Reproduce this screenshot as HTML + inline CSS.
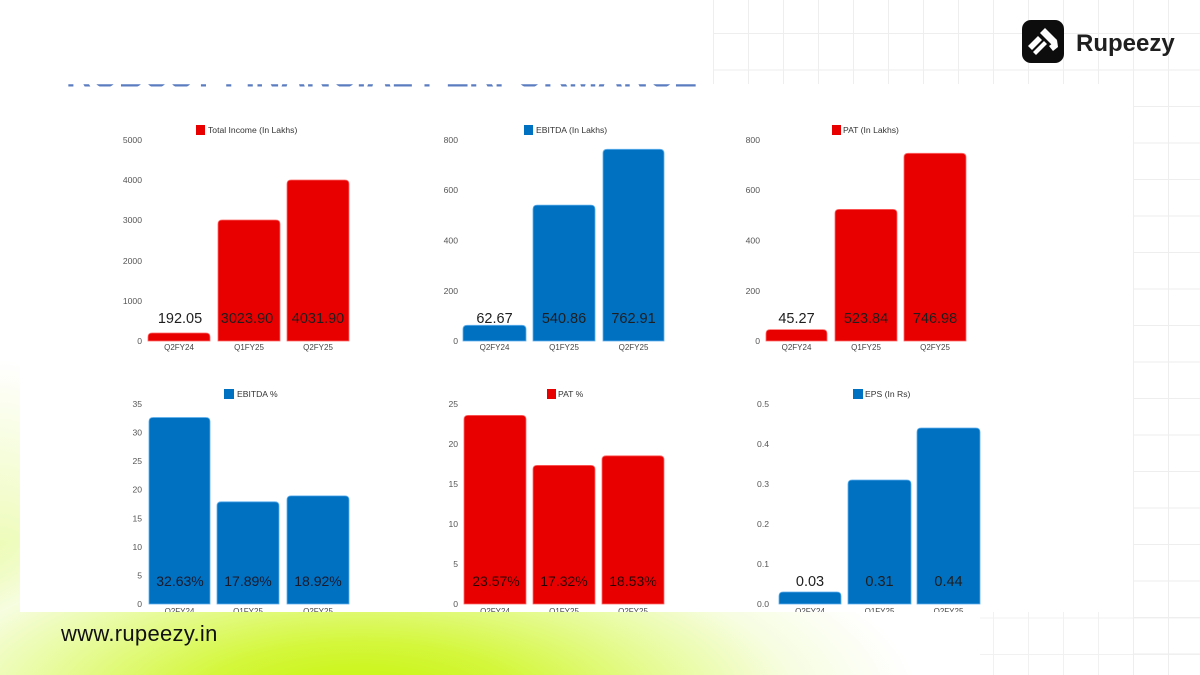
<!DOCTYPE html>
<html>
<head>
<meta charset="utf-8">
<style>
  html,body{margin:0;padding:0;}
  body{width:1200px;height:675px;position:relative;overflow:hidden;background:#ffffff;font-family:"Liberation Sans",sans-serif;}
  .lime{position:absolute;left:0;top:0;width:1200px;height:675px;
    background:
      radial-gradient(ellipse 560px 210px at 360px 705px, #c4f400 0%, #d4f73c 30%, #e6fb95 55%, #f6fde0 78%, rgba(255,255,255,0) 100%),
      radial-gradient(ellipse 140px 300px at 0px 660px, #e2fa8a 0%, #f1fcc8 50%, rgba(255,255,255,0) 100%);}
  .grid{position:absolute;
    background-image:
      linear-gradient(to right, #eeeeee 0px, #eeeeee 1px, transparent 1px),
      linear-gradient(to bottom, #eeeeee 0px, #eeeeee 1px, transparent 1px);
    background-size:35px 36.5px, 35px 36.5px;}
  .footer{position:absolute;left:61px;top:621px;font-size:22px;color:#111;letter-spacing:0.3px;}
</style>
</head>
<body>
<div class="lime"></div>
<div class="grid" style="left:713px;top:0;width:487px;height:84px;background-position:0px 33px,0px 33px;"></div>
<div class="grid" style="left:1133px;top:0;width:67px;height:675px;background-position:0px 33px,0px 33px;"></div>
<div class="grid" style="left:980px;top:612px;width:220px;height:63px;opacity:0.8;background-position:13px 5.5px,13px 5.5px;"></div>

<svg width="1200" height="675" viewBox="0 0 1200 675" style="position:absolute;left:0;top:0;" xmlns="http://www.w3.org/2000/svg" font-family="Liberation Sans, sans-serif">
  <defs>
    <clipPath id="titleclip"><rect x="0" y="84.3" width="720" height="2.2"/></clipPath>
    <clipPath id="panelclip"><rect x="20" y="87" width="1113" height="525"/></clipPath>
  </defs>

  <!-- hidden title (only bottoms visible) -->
  <g clip-path="url(#titleclip)">
    <text x="66" y="87" font-size="38" font-weight="bold" fill="#5b7dc0" textLength="631" lengthAdjust="spacingAndGlyphs">ROBUST FINANCIAL PERFORMANCE</text>
  </g>

  <!-- white panel -->
  <rect x="20" y="87" width="1113" height="525" fill="#ffffff"/>

  <!-- Logo -->
  <rect x="1022" y="20" width="42" height="43" rx="9" ry="9" fill="#0d0d0d"/>
  <g fill="#ffffff">
    <polygon points="1028,46 1038,36 1042,40 1032,50"/>
    <polygon points="1033,52 1044,41 1047,44 1036,55"/>
    <polygon points="1040,33 1045,28 1057,40 1052,45"/>
    <polygon points="1049,46 1057,40 1058,47 1053,51"/>
  </g>
  <text x="1076" y="51" font-size="24" font-weight="bold" fill="#1f1f1f">Rupeezy</text>

  <g clip-path="url(#panelclip)">
  <!-- ===== Chart 1: Total Income ===== -->
  <rect x="196" y="125" width="9" height="10" fill="#e80000"/>
  <text x="208" y="133.2" font-size="8.6" fill="#333">Total Income (In Lakhs)</text>
  <g font-size="8.6" fill="#555" text-anchor="end">
    <text x="142" y="143">5000</text>
    <text x="142" y="183">4000</text>
    <text x="142" y="223">3000</text>
    <text x="142" y="264">2000</text>
    <text x="142" y="304">1000</text>
    <text x="142" y="344">0</text>
  </g>
  <g fill="#e80000" stroke="#ff6a6a" stroke-width="0.8">
    <path d="M148,341V337Q148,333 152,333H206Q210,333 210,337V341Z"/>
    <path d="M218,341V224Q218,220 222,220H276Q280,220 280,224V341Z"/>
    <path d="M287,341V184Q287,180 291,180H345Q349,180 349,184V341Z"/>
  </g>
  <g font-size="14.5" fill="#1e1e1e" text-anchor="middle">
    <text x="180" y="323">192.05</text>
    <text x="247" y="323">3023.90</text>
    <text x="318" y="323">4031.90</text>
  </g>
  <g font-size="8" fill="#444" text-anchor="middle">
    <text x="179" y="350">Q2FY24</text>
    <text x="249" y="350">Q1FY25</text>
    <text x="318" y="350">Q2FY25</text>
  </g>

  <!-- ===== Chart 2: EBITDA ===== -->
  <rect x="524" y="125" width="9" height="10" fill="#0070c0"/>
  <text x="536" y="133.2" font-size="8.6" fill="#333">EBITDA (In Lakhs)</text>
  <g font-size="8.6" fill="#555" text-anchor="end">
    <text x="458" y="143">800</text>
    <text x="458" y="193">600</text>
    <text x="458" y="243.5">400</text>
    <text x="458" y="294">200</text>
    <text x="458" y="344">0</text>
  </g>
  <g fill="#0070c0" stroke="#5fb0ee" stroke-width="0.8">
    <path d="M463,341V329.3Q463,325.3 467,325.3H522Q526,325.3 526,329.3V341Z"/>
    <path d="M533,341V209.1Q533,205.1 537,205.1H591Q595,205.1 595,209.1V341Z"/>
    <path d="M603,341V153.3Q603,149.3 607,149.3H660Q664,149.3 664,153.3V341Z"/>
  </g>
  <g font-size="14.5" fill="#1e1e1e" text-anchor="middle">
    <text x="494.5" y="323">62.67</text>
    <text x="564" y="323">540.86</text>
    <text x="633.5" y="323">762.91</text>
  </g>
  <g font-size="8" fill="#444" text-anchor="middle">
    <text x="494.5" y="350">Q2FY24</text>
    <text x="564" y="350">Q1FY25</text>
    <text x="633.5" y="350">Q2FY25</text>
  </g>

  <!-- ===== Chart 3: PAT ===== -->
  <rect x="832" y="125" width="9" height="10" fill="#e80000"/>
  <text x="843" y="133.2" font-size="8.6" fill="#333">PAT (In Lakhs)</text>
  <g font-size="8.6" fill="#555" text-anchor="end">
    <text x="760" y="143">800</text>
    <text x="760" y="193">600</text>
    <text x="760" y="243.5">400</text>
    <text x="760" y="294">200</text>
    <text x="760" y="344">0</text>
  </g>
  <g fill="#e80000" stroke="#ff6a6a" stroke-width="0.8">
    <path d="M766,341V333.6Q766,329.6 770,329.6H823Q827,329.6 827,333.6V341Z"/>
    <path d="M835,341V213.4Q835,209.4 839,209.4H893Q897,209.4 897,213.4V341Z"/>
    <path d="M904,341V157.3Q904,153.3 908,153.3H962Q966,153.3 966,157.3V341Z"/>
  </g>
  <g font-size="14.5" fill="#1e1e1e" text-anchor="middle">
    <text x="796.5" y="323">45.27</text>
    <text x="866" y="323">523.84</text>
    <text x="935" y="323">746.98</text>
  </g>
  <g font-size="8" fill="#444" text-anchor="middle">
    <text x="796.5" y="350">Q2FY24</text>
    <text x="866" y="350">Q1FY25</text>
    <text x="935" y="350">Q2FY25</text>
  </g>

  <!-- ===== Chart 4: EBITDA % ===== -->
  <rect x="224" y="389" width="10" height="10" fill="#0070c0"/>
  <text x="237" y="397.2" font-size="8.6" fill="#333">EBITDA %</text>
  <g font-size="8.6" fill="#555" text-anchor="end">
    <text x="142" y="407">35</text>
    <text x="142" y="435.6">30</text>
    <text x="142" y="464.1">25</text>
    <text x="142" y="492.7">20</text>
    <text x="142" y="521.3">15</text>
    <text x="142" y="549.9">10</text>
    <text x="142" y="578.4">5</text>
    <text x="142" y="607">0</text>
  </g>
  <g fill="#0070c0" stroke="#5fb0ee" stroke-width="0.8">
    <path d="M149,604V421.5Q149,417.5 153,417.5H206Q210,417.5 210,421.5V604Z"/>
    <path d="M217,604V505.8Q217,501.8 221,501.8H275Q279,501.8 279,505.8V604Z"/>
    <path d="M287,604V499.9Q287,495.9 291,495.9H345Q349,495.9 349,499.9V604Z"/>
  </g>
  <g font-size="14" fill="#1a1a2a" text-anchor="middle">
    <text x="180" y="586">32.63%</text>
    <text x="248" y="586">17.89%</text>
    <text x="318" y="586">18.92%</text>
  </g>
  <g font-size="8" fill="#444" text-anchor="middle">
    <text x="179.5" y="614">Q2FY24</text>
    <text x="248" y="614">Q1FY25</text>
    <text x="318" y="614">Q2FY25</text>
  </g>

  <!-- ===== Chart 5: PAT % ===== -->
  <rect x="547" y="389" width="9" height="10" fill="#e80000"/>
  <text x="558" y="397.2" font-size="8.6" fill="#333">PAT %</text>
  <g font-size="8.6" fill="#555" text-anchor="end">
    <text x="458" y="407">25</text>
    <text x="458" y="447">20</text>
    <text x="458" y="487">15</text>
    <text x="458" y="527">10</text>
    <text x="458" y="567">5</text>
    <text x="458" y="607">0</text>
  </g>
  <g fill="#e80000" stroke="#ff6a6a" stroke-width="0.8">
    <path d="M464,604V419.4Q464,415.4 468,415.4H522Q526,415.4 526,419.4V604Z"/>
    <path d="M533,604V469.4Q533,465.4 537,465.4H591Q595,465.4 595,469.4V604Z"/>
    <path d="M602,604V459.8Q602,455.8 606,455.8H660Q664,455.8 664,459.8V604Z"/>
  </g>
  <g font-size="14" fill="#2a0000" text-anchor="middle">
    <text x="496" y="586">23.57%</text>
    <text x="564" y="586">17.32%</text>
    <text x="633" y="586">18.53%</text>
  </g>
  <g font-size="8" fill="#444" text-anchor="middle">
    <text x="495" y="614">Q2FY24</text>
    <text x="564" y="614">Q1FY25</text>
    <text x="633" y="614">Q2FY25</text>
  </g>

  <!-- ===== Chart 6: EPS ===== -->
  <rect x="853" y="389" width="10" height="10" fill="#0070c0"/>
  <text x="865" y="397.2" font-size="8.6" fill="#333">EPS (In Rs)</text>
  <g font-size="8.6" fill="#555" text-anchor="end">
    <text x="769" y="407">0.5</text>
    <text x="769" y="447">0.4</text>
    <text x="769" y="487">0.3</text>
    <text x="769" y="527">0.2</text>
    <text x="769" y="567">0.1</text>
    <text x="769" y="607">0.0</text>
  </g>
  <g fill="#0070c0" stroke="#5fb0ee" stroke-width="0.8">
    <path d="M779,604V596Q779,592 783,592H837Q841,592 841,596V604Z"/>
    <path d="M848,604V484Q848,480 852,480H907Q911,480 911,484V604Z"/>
    <path d="M917,604V432Q917,428 921,428H976Q980,428 980,432V604Z"/>
  </g>
  <g font-size="14.5" fill="#1e1e1e" text-anchor="middle">
    <text x="810" y="586">0.03</text>
    <text x="879.5" y="586">0.31</text>
    <text x="948.5" y="586">0.44</text>
  </g>
  <g font-size="8" fill="#444" text-anchor="middle">
    <text x="810" y="614">Q2FY24</text>
    <text x="879.5" y="614">Q1FY25</text>
    <text x="948.5" y="614">Q2FY25</text>
  </g>
  </g>
</svg>

<div class="footer">www.rupeezy.in</div>
</body>
</html>
